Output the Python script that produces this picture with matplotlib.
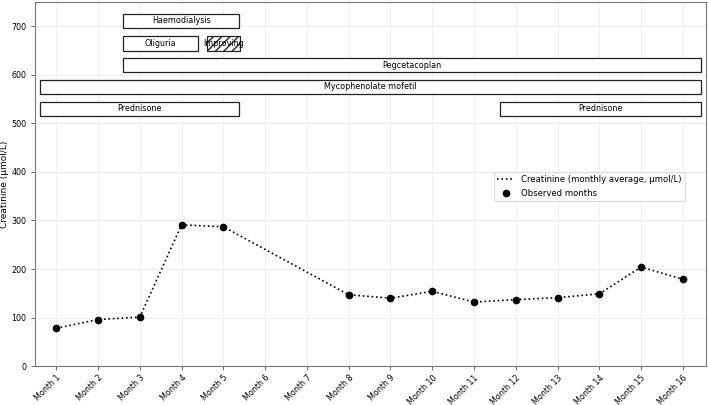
import matplotlib.pyplot as plt
import numpy as np

months = [f"Month {i}" for i in range(1, 17)]

# observed months (index into months) and creatinine values
obs_idx = [0, 1, 2, 3, 4, 7, 8, 9, 10, 11, 12, 13, 14, 15]
creat = [78, 96, 101, 291, 287, 147, 140, 154, 132, 137, 141, 149, 204, 179]

# treatment / event bars: label, start, end, centre y, hatch
bar_labels = ["Haemodialysis", "Oliguria", "Improving", "Pegcetacoplan",
              "Mycophenolate mofetil", "Prednisone", "Prednisone"]
bar_start = [1.6, 1.6, 3.6, 1.6, -0.4, -0.4, 10.62]
bar_end = [4.38, 3.4, 4.4, 15.43, 15.43, 4.38, 15.43]
bar_y = [711, 665, 665, 620, 575, 530, 530]
bar_hatch = [None, None, "////", None, None, None, None]

fig = plt.figure(figsize=(7.08, 4.05), dpi=100)
ax = fig.add_axes([0.050, 0.096, 0.947, 0.899])

ax.grid(True, color="#ececec", linewidth=0.6)
ax.set_axisbelow(True)

ax.plot(obs_idx, creat, linestyle=":", color="black", linewidth=1.2,
        label="Creatinine (monthly average, µmol/L)")
ax.plot(obs_idx, creat, "o", color="black", markersize=4.5, linestyle="none",
        label="Observed months")

for lab, s, e, y, h in zip(bar_labels, bar_start, bar_end, bar_y, bar_hatch):
    ax.barh(y, e - s, left=s, height=30, facecolor="white", edgecolor="#222222",
            linewidth=0.9, hatch=h)
    ax.text((s + e) / 2, y, lab, ha="center", va="center", fontsize=5.8)

ax.set_xlim(-0.5, 15.55)
ax.set_ylim(0, 750)
ax.set_xticks(range(len(months)))
ax.set_xticklabels(months, rotation=45, ha="right", rotation_mode="anchor", fontsize=5.8)
ax.tick_params(axis="both", labelsize=5.8, length=3, width=0.6, color="#555555")
ax.tick_params(axis="x", pad=2)
ax.set_yticks(range(0, 701, 100))
ax.set_ylabel("Creatinine (µmol/L)", fontsize=6.5)
ax.yaxis.set_label_coords(-0.04, 0.5)

for sp in ax.spines.values():
    sp.set_color("#777777")

ax.legend(loc="upper right", bbox_to_anchor=(0.975, 0.545), fontsize=6.1,
          framealpha=1, edgecolor="#dddddd", fancybox=True)

fig.savefig("out.png", dpi=100)
